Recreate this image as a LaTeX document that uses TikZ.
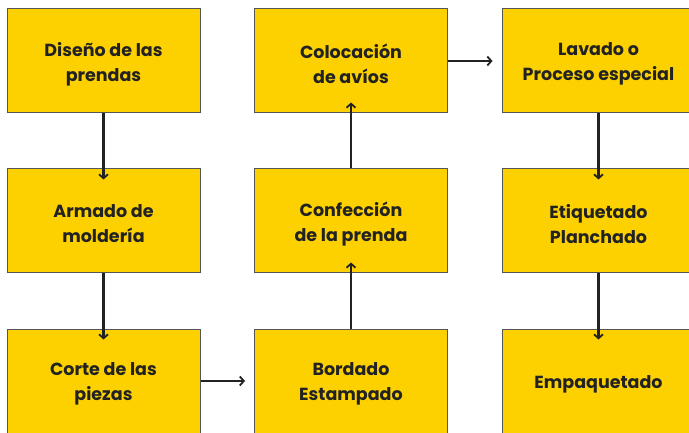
\documentclass[tikz,border=0pt]{standalone}
\usepackage{fontspec}
\setmainfont{Poppins}
\usetikzlibrary{arrows.meta}
\definecolor{boxfill}{HTML}{FDD100}
\definecolor{boxline}{HTML}{555555}
\definecolor{ink}{HTML}{222222}
\tikzset{
  procbox/.style={draw=boxline, line width=1pt, fill=boxfill, minimum width=193pt, minimum height=104pt, inner sep=0pt},
  lbl/.style={yshift=-3pt, inner sep=0pt, align=center, font=\fontsize{17.5}{25}\selectfont\bfseries, text=ink},
  flow/.style={draw=ink, line width=2.2pt, -{Straight Barb[length=4pt,width=9pt,line width=1.8pt]}}
}
\begin{document}
\begin{tikzpicture}[x=1pt,y=-1pt]
\useasboundingbox (0,0) rectangle (689,433);
\clip (0,0) rectangle (689,433);
\node[procbox, label={[lbl]center:Diseño de las\\prendas}] (a) at (103.5,61) {};
\node[procbox, label={[lbl]center:Armado de\\moldería}] (b) at (103.5,221) {};
\node[procbox, label={[lbl]center:Corte de las\\piezas}] (c) at (103.5,381) {};
\node[procbox, label={[lbl]center:Bordado\\Estampado}] (d) at (351,381) {};
\node[procbox, label={[lbl]center:Confección\\de la prenda}] (e) at (351,221) {};
\node[procbox, label={[lbl]center:Colocación\\de avíos}] (f) at (351,61) {};
\node[procbox, label={[lbl]center:Lavado o\\Proceso especial}] (g) at (598.5,61) {};
\node[procbox, label={[lbl]center:Etiquetado\\Planchado}] (h) at (598.5,221) {};
\node[procbox, label={[lbl]center:Empaquetado}] (i) at (598.5,381) {};
\draw[flow] (a.south) -- ([yshift=-11pt]b.north);
\draw[flow] (b.south) -- ([yshift=-11pt]c.north);
\draw[flow] (c.east) -- ([xshift=-9pt]d.west);
\draw[flow] (d.north) -- ([yshift=11pt]e.south);
\draw[flow] (e.north) -- ([yshift=11pt]f.south);
\draw[flow] (f.east) -- ([xshift=-9pt]g.west);
\draw[flow] (g.south) -- ([yshift=-11pt]h.north);
\draw[flow] (h.south) -- ([yshift=-11pt]i.north);
\end{tikzpicture}
\end{document}
